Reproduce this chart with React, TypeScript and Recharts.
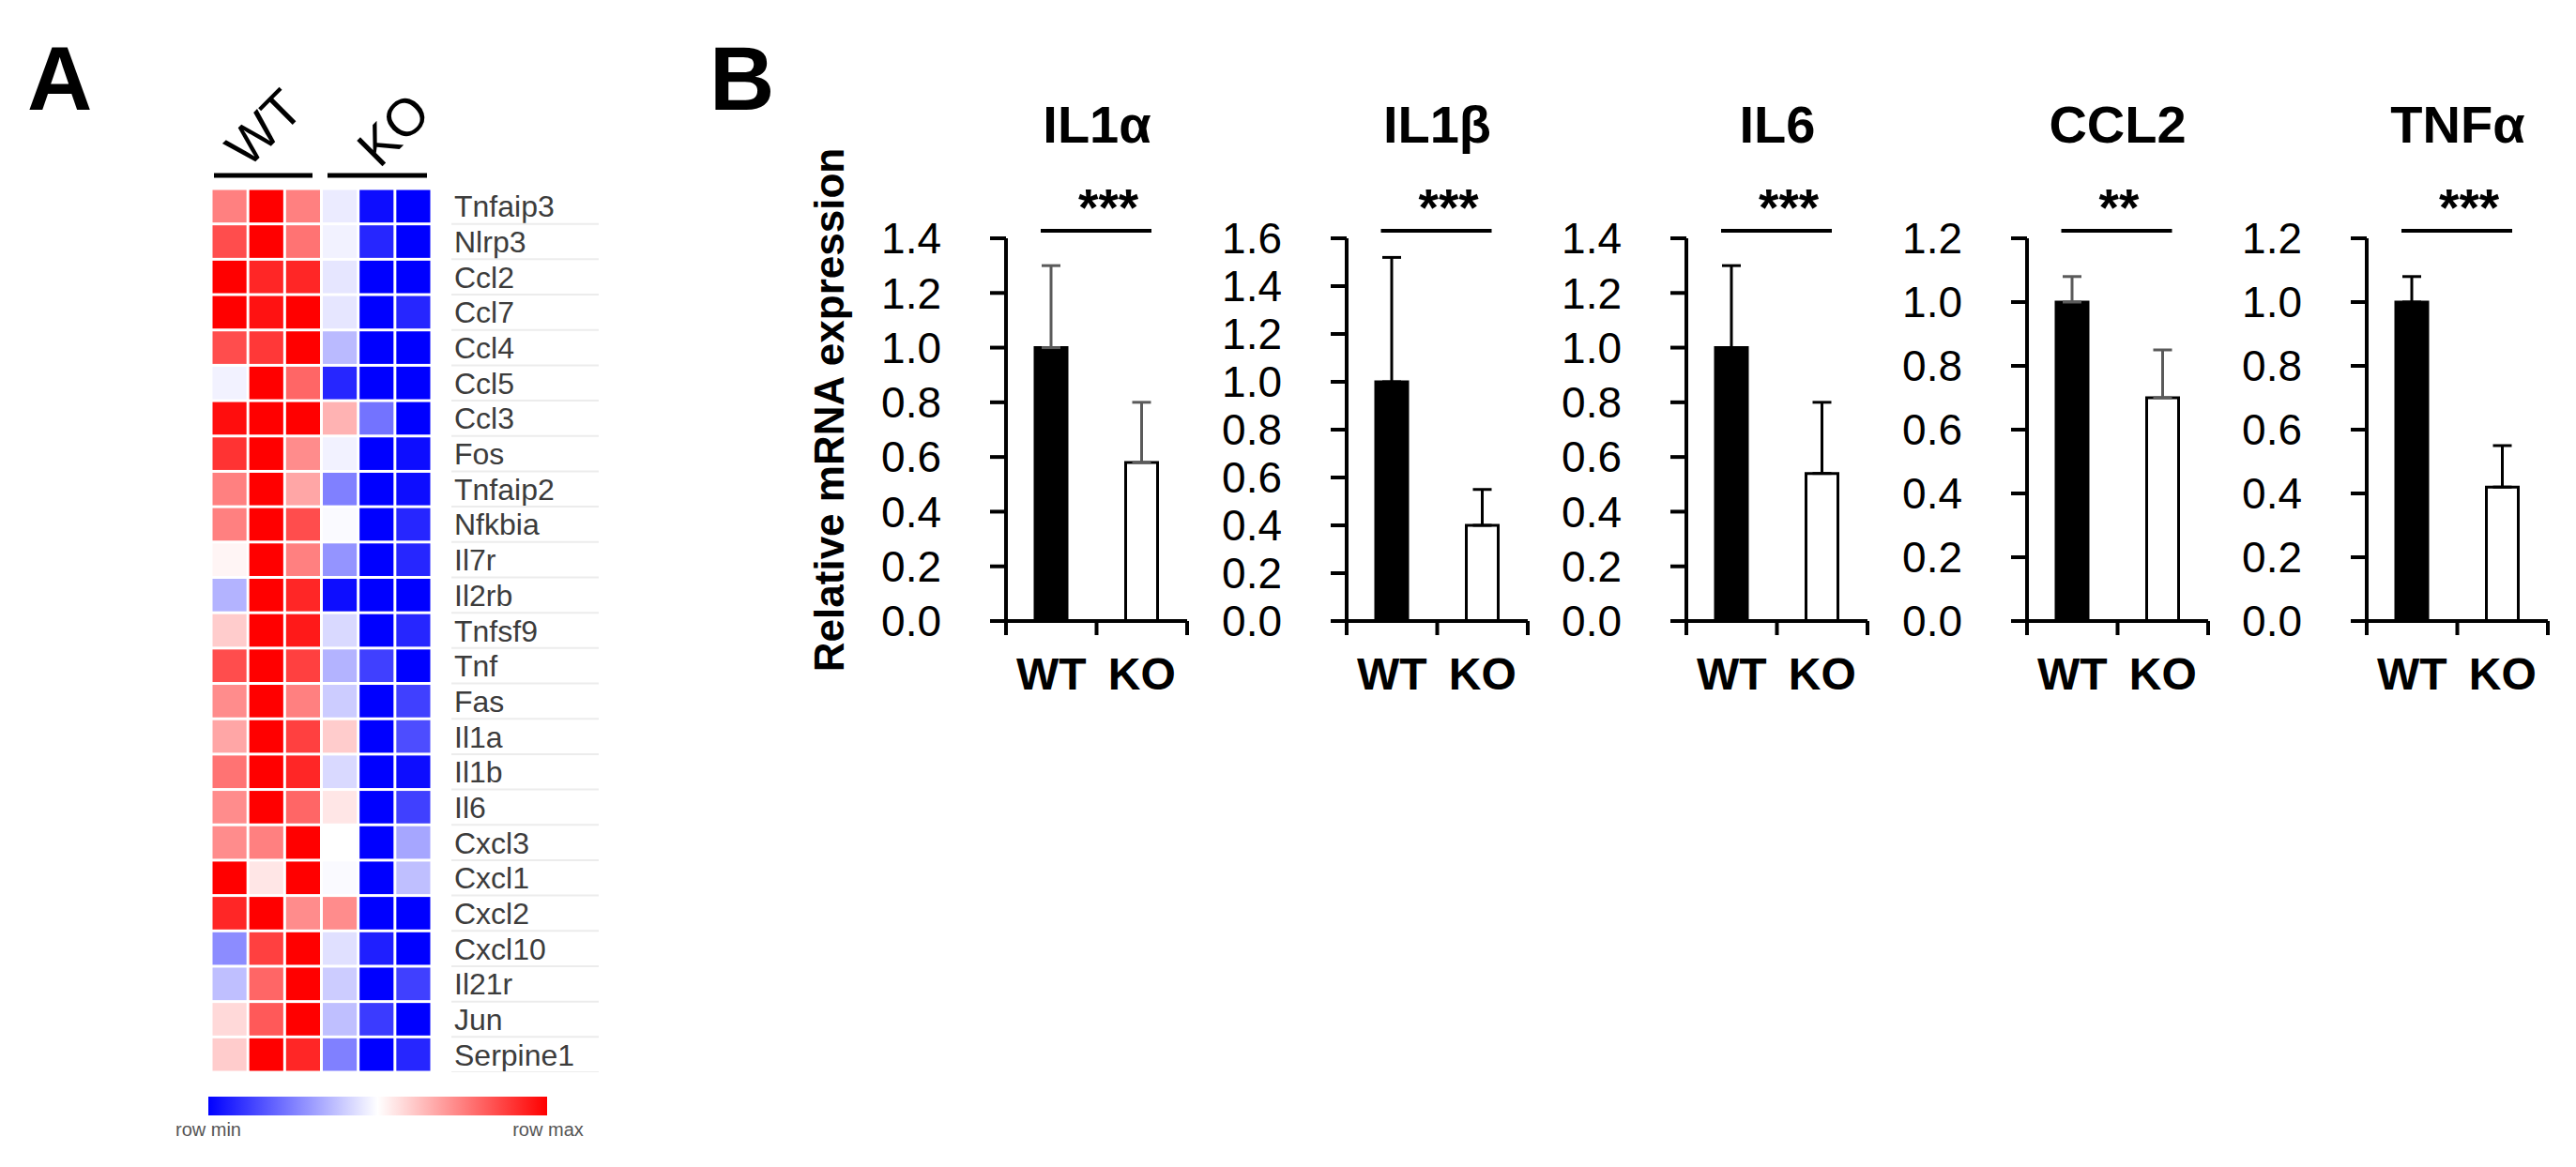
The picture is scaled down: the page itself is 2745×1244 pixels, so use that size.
import { BarChart, Bar, XAxis, YAxis, ErrorBar, Cell, ScatterChart, Scatter } from 'recharts'

// ---- panel A: heatmap (values scaled per row, -1 = row min, 1 = row max)
const genes = [
  'Tnfaip3', 'Nlrp3', 'Ccl2', 'Ccl7', 'Ccl4', 'Ccl5', 'Ccl3', 'Fos', 'Tnfaip2', 'Nfkbia',
  'Il7r', 'Il2rb', 'Tnfsf9', 'Tnf', 'Fas', 'Il1a', 'Il1b', 'Il6', 'Cxcl3', 'Cxcl1',
  'Cxcl2', 'Cxcl10', 'Il21r', 'Jun', 'Serpine1',
]
const wt1 = [0.5, 0.7, 1.0, 1.0, 0.7, -0.05, 0.95, 0.8, 0.5, 0.5, 0.04, -0.3, 0.2, 0.7, 0.45, 0.35, 0.55, 0.45, 0.45, 1.0, 0.85, -0.45, -0.25, 0.15, 0.2]
const wt2 = [1.0, 1.0, 0.85, 0.93, 0.78, 1.0, 1.0, 1.0, 1.0, 1.0, 1.0, 1.0, 1.0, 1.0, 1.0, 1.0, 1.0, 1.0, 0.5, 0.1, 1.0, 0.75, 0.6, 0.65, 1.0]
const wt3 = [0.5, 0.55, 0.85, 1.0, 1.0, 0.6, 1.0, 0.45, 0.35, 0.7, 0.5, 0.85, 0.9, 0.75, 0.5, 0.75, 0.85, 0.6, 1.0, 1.0, 0.45, 1.0, 1.0, 1.0, 0.85]
const ko1 = [-0.08, -0.05, -0.1, -0.1, -0.27, -0.85, 0.3, -0.05, -0.5, -0.02, -0.42, -0.95, -0.15, -0.3, -0.2, 0.2, -0.15, 0.1, 0.0, -0.02, 0.45, -0.12, -0.2, -0.25, -0.5]
const ko2 = [-0.95, -0.85, -1, -1, -1, -1, -0.55, -1, -1, -1, -1, -1, -1, -0.75, -1, -1, -1, -1, -1, -1, -1, -0.88, -1, -0.77, -1]
const ko3 = [-1, -1, -1, -0.85, -1, -1, -1, -0.95, -0.95, -0.85, -0.85, -1, -0.85, -1, -0.75, -0.7, -0.95, -0.75, -0.35, -0.25, -1, -1, -0.75, -1, -0.85]
const sampleCols = [wt1, wt2, wt3, ko1, ko2, ko3]

// ---- panel B: qPCR bars
const targets = ['IL1α', 'IL1β', 'IL6', 'CCL2', 'TNFα']
const groups = ['WT', 'KO']
const wtMean = [1.0, 1.0, 1.0, 1.0, 1.0]
const wtSd = [0.3, 0.52, 0.3, 0.08, 0.08]
const koMean = [0.58, 0.4, 0.54, 0.7, 0.42]
const koSd = [0.22, 0.15, 0.26, 0.15, 0.13]
const stars = ['***', '***', '***', '**', '***']
const ticks12 = [0, 0.2, 0.4, 0.6, 0.8, 1.0, 1.2]
const ticks14 = [0, 0.2, 0.4, 0.6, 0.8, 1.0, 1.2, 1.4]
const ticks16 = [0, 0.2, 0.4, 0.6, 0.8, 1.0, 1.2, 1.4, 1.6]
const tickSets = [ticks14, ticks16, ticks14, ticks12, ticks12]

// layout
const SANS = "'Liberation Sans', Arial, sans-serif"
const NARROW = "'Liberation Sans Narrow', 'Liberation Sans', sans-serif"
const errColors = ['#5a5a5a', '#000', '#000', '#5a5a5a', '#000']
const AXIS_X = [1072, 1434.5, 1797, 2159.5, 2522]
const Y_W = 140
const PLOT_W = 193
const PLOT_H = 408
const MARGIN_TOP = 54
const CHART_TOP = 200
const X_H = 100

const HM_LEFT = 225
const HM_TOP = 201
const HM_W = 235
const HM_H = 942
const CELL_W = HM_W / 6
const CELL_H = HM_H / 25

function heat(v: number) {
  if (v >= 0) {
    const t = Math.round(255 * (1 - v))
    return `rgb(255,${t},${t})`
  }
  const t = Math.round(255 * (1 + v))
  return `rgb(${t},${t},255)`
}

function GeneTick(props: any) {
  const { x, y, payload } = props
  return (
    <g>
      <text x={x} y={y} dy="0.36em" fontSize={32} fill="#3c3c3c" fontFamily={SANS}>
        {genes[payload.value]}
      </text>
      <line x1={x - 3} x2={x + 154} y1={y + CELL_H / 2} y2={y + CELL_H / 2} stroke="#ececec" strokeWidth={2} />
    </g>
  )
}

function Heatmap() {
  const cells = genes.flatMap((_, r) => sampleCols.map((col, c) => ({ col: c, row: r, v: col[r] })))
  return (
    <div style={{ position: 'absolute', left: HM_LEFT, top: HM_TOP }}>
      <ScatterChart width={HM_W + 200} height={HM_H} margin={{ top: 0, right: 0, bottom: 0, left: 0 }}>
        <XAxis type="number" dataKey="col" domain={[-0.5, 5.5]} hide />
        <YAxis
          type="number"
          dataKey="row"
          domain={[-0.5, 24.5]}
          reversed
          orientation="right"
          width={200}
          ticks={genes.map((_, i) => i)}
          interval={0}
          axisLine={false}
          tickLine={false}
          tickSize={0}
          tickMargin={24}
          tick={(p: any) => <GeneTick {...p} />}
        />
        <Scatter
          data={cells}
          isAnimationActive={false}
          shape={(p: any) => {
            const v = p.payload?.v ?? p.v
            return (
              <rect
                x={p.cx - CELL_W / 2 + 1.5}
                y={p.cy - CELL_H / 2 + 1.5}
                width={CELL_W - 3}
                height={CELL_H - 3}
                fill={heat(v)}
              />
            )
          }}
        />
      </ScatterChart>
    </div>
  )
}

function GroupTick(props: any) {
  const { x, y, payload, index } = props
  const half = PLOT_W / 4
  return (
    <g>
      <line x1={x - half} x2={x - half} y1={y} y2={y + 15} stroke="#000" strokeWidth={4} />
      {index === 1 && <line x1={x + half} x2={x + half} y1={y} y2={y + 15} stroke="#000" strokeWidth={4} />}
      <text x={x} y={y + 73} textAnchor="middle" fontSize={48} fontWeight="bold" fontFamily={SANS} fill="#000">
        {payload.value}
      </text>
    </g>
  )
}

function ExprChart({ i }: { i: number }) {
  const data = groups.map((g, k) => ({
    name: g,
    value: k === 0 ? wtMean[i] : koMean[i],
    err: [0, k === 0 ? wtSd[i] : koSd[i]],
  }))
  const ticks = tickSets[i]
  return (
    <div style={{ position: 'absolute', left: AXIS_X[i] - Y_W, top: CHART_TOP }}>
      <BarChart
        width={Y_W + PLOT_W + 20}
        height={MARGIN_TOP + PLOT_H + X_H}
        data={data}
        margin={{ top: MARGIN_TOP, right: 20, left: 0, bottom: 0 }}
        barSize={34}
      >
        <XAxis
          dataKey="name"
          height={X_H}
          interval={0}
          axisLine={{ stroke: '#000', strokeWidth: 4 }}
          tickLine={false}
          tickSize={0}
          tickMargin={0}
          tick={(p: any) => <GroupTick {...p} />}
        />
        <YAxis
          type="number"
          domain={[0, ticks[ticks.length - 1]]}
          ticks={ticks}
          interval={0}
          width={Y_W}
          tickFormatter={(v: number) => v.toFixed(1)}
          axisLine={{ stroke: '#000', strokeWidth: 4 }}
          tickLine={{ stroke: '#000', strokeWidth: 4 }}
          tickSize={17}
          tickMargin={52}
          tick={{ fontSize: 46, fill: '#000', fontFamily: NARROW }}
        />
        <Bar dataKey="value" isAnimationActive={false} stroke="#000" strokeWidth={3}>
          {data.map((_, k) => (
            <Cell key={k} fill={k === 0 ? '#000' : '#fff'} />
          ))}
          <ErrorBar dataKey="err" width={10} strokeWidth={3} stroke={errColors[i]} direction="y" />
        </Bar>
      </BarChart>
    </div>
  )
}

export default function App() {
  return (
    <div style={{ position: 'absolute', left: 0, top: 0, width: 2745, height: 1244, background: '#fff' }}>
      <Heatmap />
      {targets.map((_, i) => (
        <ExprChart key={i} i={i} />
      ))}
      <svg
        width={2745}
        height={1244}
        style={{ position: 'absolute', left: 0, top: 0, pointerEvents: 'none' }}
        fontFamily={SANS}
      >
        <defs>
          <linearGradient id="rowScale" x1="0" x2="1" y1="0" y2="0">
            <stop offset="0" stopColor="#0000ff" />
            <stop offset="0.5" stopColor="#ffffff" />
            <stop offset="1" stopColor="#ff0000" />
          </linearGradient>
        </defs>
        <text x={29} y={117} fontSize={96} fontWeight="bold">A</text>
        <text x={756} y={117} fontSize={96} fontWeight="bold">B</text>

        {/* heatmap header */}
        <text x={281} y={136} fontSize={56} textAnchor="middle" dominantBaseline="central" transform="rotate(-45 281 136)">WT</text>
        <text x={419} y={138} fontSize={56} textAnchor="middle" dominantBaseline="central" transform="rotate(-45 419 138)">KO</text>
        <line x1={228} x2={333} y1={187} y2={187} stroke="#000" strokeWidth={5} />
        <line x1={349} x2={455} y1={187} y2={187} stroke="#000" strokeWidth={5} />

        {/* colour key */}
        <rect x={222} y={1169} width={361} height={20} fill="url(#rowScale)" />
        <text x={222} y={1211} fontSize={20} fill="#555" textAnchor="middle">row min</text>
        <text x={584} y={1211} fontSize={20} fill="#555" textAnchor="middle">row max</text>

        {/* panel B annotations */}
        <text x={883} y={437} fontSize={44} fontWeight="bold" textAnchor="middle" dominantBaseline="central" transform="rotate(-90 883 437)">
          Relative mRNA expression
        </text>
        {targets.map((t, i) => (
          <g key={t}>
            <text x={AXIS_X[i] + 97} y={152} fontSize={56} fontWeight="bold" textAnchor="middle">{t}</text>
            <text x={AXIS_X[i] + 77} y={240} fontSize={55} fontWeight="bold">{stars[i]}</text>
            <line x1={AXIS_X[i] + 37} x2={AXIS_X[i] + 155} y1={246} y2={246} stroke="#000" strokeWidth={4} />
          </g>
        ))}
      </svg>
    </div>
  )
}
